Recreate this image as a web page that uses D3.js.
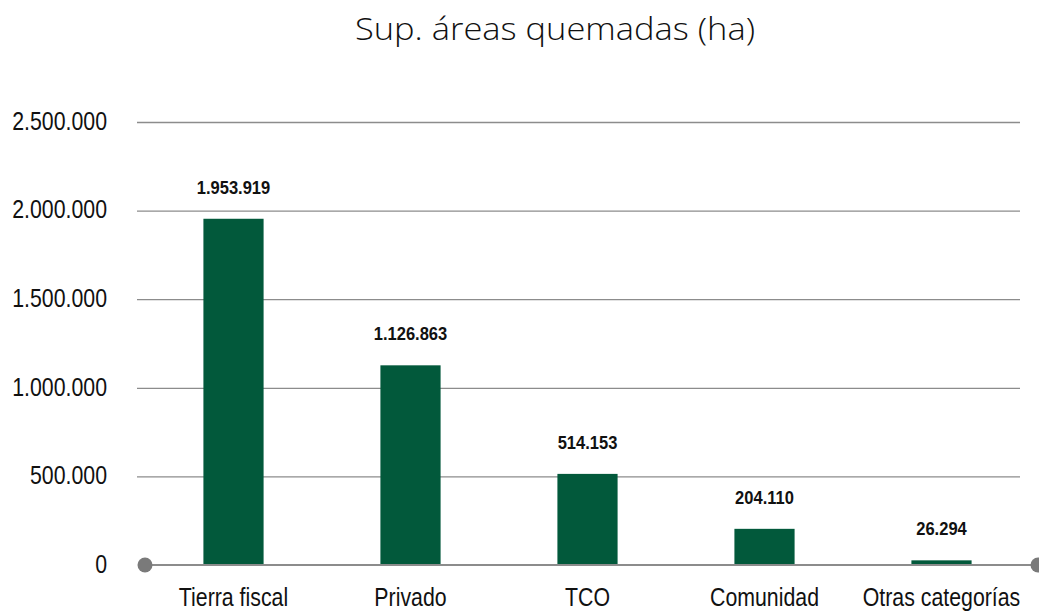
<!DOCTYPE html>
<html>
<head>
<meta charset="utf-8">
<script src="https://cdn.jsdelivr.net/npm/d3@7"></script>
<style>
  html, body { margin: 0; padding: 0; background: #fff; }
  svg { display: block; }
</style>
</head>
<body>
<svg id="chart" width="1039" height="612"></svg>
<script>
// Superficie de áreas quemadas por categoría de tierra (hectáreas)
const categories = ["Tierra fiscal", "Privado", "TCO", "Comunidad", "Otras categorías"];
const values = [1953919, 1126863, 514153, 204110, 26294];
const yTicks = [0, 500000, 1000000, 1500000, 2000000, 2500000];
const titleText = "Sup. áreas quemadas (ha)";

const svg = d3.select("#chart");

const sans = "'Liberation Sans', Arial, sans-serif";
const squeeze = 0.82;          // horizontal condensing for a narrow face
const barColor = "#02593B";
const gridColor = "#8c8c8c";

// Spanish-style thousands separator
const fmt = d3.formatLocale({ decimal: ",", thousands: ".", grouping: [3], currency: ["", ""] }).format(",d");

const y = d3.scaleLinear().domain([0, 2500000]).range([565, 122]);
const x = d3.scaleBand().domain(categories).range([145, 1030]).paddingInner(0.66).paddingOuter(0.33);

// Condense a text element horizontally around its own x anchor
function condense(sel, k) {
  sel.each(function () {
    const t = d3.select(this);
    const tx = +t.attr("x") || 0;
    t.attr("x", 0).attr("transform", `translate(${tx},0) scale(${k},1)`);
  });
}

// Title
svg.append("text")
  .attr("x", 555).attr("y", 40)
  .attr("text-anchor", "middle")
  .attr("font-family", "'Open Sans', Lato, sans-serif")
  .attr("font-weight", 300)
  .attr("font-size", 31)
  .attr("fill", "#111")
  .attr("textLength", 400)
  .attr("lengthAdjust", "spacingAndGlyphs")
  .text(titleText);

// Gridlines and y tick labels
const yAxis = d3.axisLeft(y).tickValues(yTicks).tickFormat(fmt).tickSize(-(1020 - 137)).tickPadding(30);
const gy = svg.append("g").attr("transform", "translate(137,0)").call(yAxis);
gy.select(".domain").remove();
gy.selectAll(".tick line").attr("stroke", gridColor).attr("stroke-width", 1.3)
  .filter(d => d === 0).remove();
gy.selectAll(".tick text")
  .attr("font-family", sans)
  .attr("font-size", 26)
  .attr("dy", "0.28em")
  .attr("fill", "#111")
  .call(condense, squeeze);

// Bars
svg.append("g").selectAll("rect")
  .data(values)
  .join("rect")
  .attr("x", (d, i) => x(categories[i]))
  .attr("width", x.bandwidth())
  .attr("y", d => y(d))
  .attr("height", d => y(0) - y(d))
  .attr("fill", barColor);

// Value labels
svg.append("g").selectAll("text")
  .data(values)
  .join("text")
  .attr("x", (d, i) => x(categories[i]) + x.bandwidth() / 2)
  .attr("y", d => y(d) - 25)
  .attr("text-anchor", "middle")
  .attr("font-family", sans)
  .attr("font-weight", "bold")
  .attr("font-size", 19)
  .attr("fill", "#111")
  .text(d => fmt(d))
  .call(condense, 0.87);

// Baseline with round end markers
const base = svg.append("g");
base.append("line")
  .attr("x1", 145).attr("x2", 1038)
  .attr("y1", y(0)).attr("y2", y(0))
  .attr("stroke", gridColor).attr("stroke-width", 2);
base.selectAll("circle")
  .data([145, 1038])
  .join("circle")
  .attr("cx", d => d).attr("cy", y(0)).attr("r", 7.5)
  .attr("fill", "#7a7a7a");

// Category labels
const xAxis = d3.axisBottom(x).tickSize(0).tickPadding(23);
const gx = svg.append("g").attr("transform", `translate(0,${y(0)})`).call(xAxis);
gx.select(".domain").remove();
gx.selectAll(".tick text")
  .attr("font-family", sans)
  .attr("font-size", 26)
  .attr("fill", "#111")
  .call(condense, squeeze);
</script>
</body>
</html>
